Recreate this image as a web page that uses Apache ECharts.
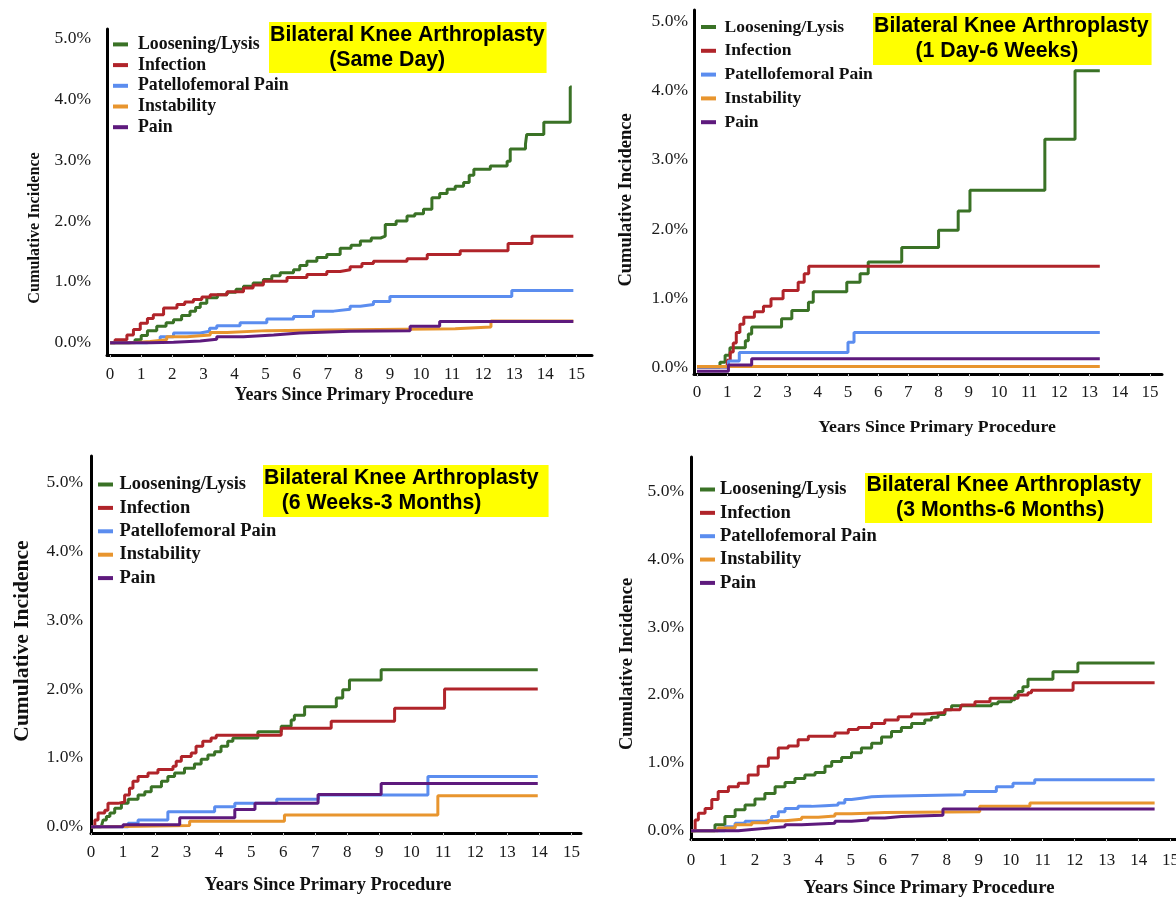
<!DOCTYPE html>
<html>
<head>
<meta charset="utf-8">
<title>Bilateral Knee Arthroplasty - cumulative incidence</title>
<script src="https://cdn.jsdelivr.net/npm/echarts@6.0.0/dist/echarts.min.js"></script>
<style>
  html, body { margin: 0; padding: 0; background: #fff; }
  #chart { width: 1176px; height: 897px; }
</style>
</head>
<body>
<div id="chart"></div>
<script>
// values: [years since primary procedure, cumulative incidence %]
const causes = ['Loosening/Lysis', 'Infection', 'Patellofemoral Pain', 'Instability', 'Pain'];
const panelNames = ['Same Day', '1 Day-6 Weeks', '6 Weeks-3 Months', '3 Months-6 Months'];
const xTicks = [0, 1, 2, 3, 4, 5, 6, 7, 8, 9, 10, 11, 12, 13, 14, 15];
const yTicks = [0, 1, 2, 3, 4, 5];

// Same Day
const sameDayLoosening = [[0,0],[0.6,0.01],[0.8,0.05],[1.0,0.12],[1.2,0.2],[1.5,0.27],[1.8,0.33],[2.04,0.38],[2.3,0.45],[2.57,0.52],[2.75,0.58],[2.9,0.65],[3.11,0.74],[3.45,0.79],[3.76,0.83],[4.05,0.88],[4.29,0.93],[4.6,0.98],[4.93,1.04],[5.2,1.1],[5.47,1.15],[5.9,1.2],[6.1,1.27],[6.33,1.34],[6.65,1.4],[6.97,1.45],[7.4,1.55],[7.75,1.6],[8.05,1.67],[8.4,1.72],[8.7,1.75],[8.85,1.94],[9.2,2.0],[9.55,2.08],[9.8,2.12],[10.08,2.19],[10.35,2.38],[10.6,2.45],[10.84,2.52],[11.1,2.57],[11.37,2.63],[11.55,2.75],[11.7,2.85],[12.23,2.9],[12.77,2.98],[12.87,3.18],[13.36,3.26],[13.4,3.42],[13.95,3.62],[14.8,4.2],[14.85,4.2]];
const sameDayInfection = [[0,0],[0.16,0.05],[0.54,0.13],[0.75,0.22],[0.97,0.32],[1.2,0.4],[1.39,0.46],[1.72,0.57],[2.15,0.63],[2.4,0.67],[2.68,0.71],[2.95,0.75],[3.22,0.79],[3.76,0.84],[4.29,0.9],[4.6,0.95],[4.93,1.01],[5.69,1.07],[6.33,1.12],[6.97,1.17],[7.4,1.2],[7.72,1.25],[8.1,1.3],[8.47,1.34],[9.55,1.38],[10.2,1.45],[11.26,1.51],[12.8,1.63],[13.57,1.75],[14.9,1.75]];
const sameDayPatellofemoral = [[0,0],[1.18,0.03],[1.61,0.1],[2.04,0.16],[2.9,0.19],[3.2,0.24],[3.43,0.28],[4.18,0.33],[5.04,0.39],[5.9,0.43],[6.54,0.52],[7.19,0.55],[7.72,0.6],[8.05,0.63],[8.47,0.68],[9.0,0.76],[12.92,0.86],[14.9,0.86]];
const sameDayInstability = [[0,0],[0.75,0.02],[1.29,0.05],[1.82,0.1],[2.47,0.13],[3.22,0.17],[3.76,0.2],[5.04,0.21],[7.0,0.23],[11.1,0.26],[12.25,0.36],[14.9,0.36]];
const sameDayPain = [[0,0],[1.29,0.01],[2.04,0.03],[2.9,0.06],[3.43,0.1],[4.29,0.13],[5.26,0.16],[6.1,0.19],[7.72,0.2],[9.65,0.27],[10.6,0.35],[14.9,0.35]];

// 1 Day-6 Weeks
const oneDayLoosening = [[0,0],[0.76,0.07],[0.93,0.17],[1.09,0.28],[1.6,0.38],[1.7,0.48],[1.81,0.58],[2.8,0.7],[3.14,0.82],[3.69,0.94],[3.85,1.09],[4.96,1.23],[5.4,1.35],[5.67,1.52],[6.78,1.73],[8.0,1.98],[8.65,2.26],[9.04,2.56],[11.52,3.3],[12.52,4.29],[13.34,4.29]];
const oneDayInfection = [[0,0],[1.0,0.1],[1.1,0.22],[1.2,0.35],[1.3,0.5],[1.42,0.62],[1.55,0.72],[1.9,0.8],[2.2,0.88],[2.45,0.99],[2.85,1.11],[3.35,1.23],[3.55,1.35],[3.7,1.46],[13.34,1.46]];
const oneDayPatellofemoral = [[0,0],[1.04,0.09],[1.4,0.21],[5.0,0.36],[5.2,0.5],[13.34,0.5]];
const oneDayInstability = [[0,0.01],[13.34,0.01]];
const oneDayPain = [[0,-0.06],[1.04,0.03],[1.81,0.12],[13.34,0.12]];

// 6 Weeks-3 Months
const sixWeekLoosening = [[0,0],[0.32,0],[0.38,0.1],[0.48,0.15],[0.59,0.2],[0.74,0.27],[0.95,0.34],[1.16,0.4],[1.47,0.46],[1.68,0.51],[1.88,0.58],[2.2,0.66],[2.4,0.73],[2.61,0.78],[2.92,0.85],[3.23,0.91],[3.44,0.98],[3.65,1.04],[3.86,1.09],[4.06,1.17],[4.27,1.24],[4.43,1.29],[5.21,1.38],[5.94,1.46],[6.25,1.55],[6.35,1.62],[6.67,1.74],[7.66,1.87],[7.86,1.99],[8.07,2.13],[9.06,2.28],[13.95,2.28]];
const sixWeekInfection = [[0,0],[0.12,0.1],[0.22,0.2],[0.43,0.24],[0.53,0.34],[0.84,0.36],[1.05,0.46],[1.2,0.56],[1.31,0.66],[1.47,0.73],[1.78,0.78],[2.09,0.83],[2.56,0.88],[2.66,0.95],[2.82,1.02],[3.13,1.07],[3.28,1.17],[3.49,1.24],[3.75,1.29],[3.91,1.33],[5.94,1.43],[7.5,1.53],[9.48,1.72],[11.04,2.0],[13.95,2.0]];
const sixWeekPatellofemoral = [[0,0],[0.95,0],[1.16,0.05],[1.47,0.1],[2.4,0.22],[3.86,0.29],[4.49,0.34],[5.8,0.4],[7.1,0.46],[10.52,0.73],[13.95,0.73]];
const sixWeekInstability = [[0,0],[0.5,0.02],[3.08,0.08],[6.04,0.17],[10.83,0.45],[13.95,0.45]];
const sixWeekPain = [[0,0],[1.0,0.03],[2.77,0.13],[4.49,0.25],[5.12,0.34],[7.09,0.47],[9.06,0.63],[13.95,0.63]];

// 3 Months-6 Months
const threeMonthLoosening = [[0,0],[0.44,0],[0.75,0.09],[1.06,0.21],[1.38,0.31],[1.69,0.38],[2.0,0.47],[2.31,0.55],[2.63,0.65],[2.94,0.71],[3.25,0.77],[3.56,0.82],[3.88,0.86],[4.19,0.95],[4.4,1.02],[4.71,1.08],[5.02,1.15],[5.33,1.22],[5.65,1.29],[5.96,1.38],[6.27,1.46],[6.58,1.52],[6.9,1.58],[7.31,1.63],[7.52,1.67],[7.73,1.71],[7.94,1.78],[8.15,1.84],[9.4,1.87],[9.6,1.9],[10.02,1.93],[10.13,2.0],[10.23,2.05],[10.38,2.12],[10.54,2.23],[11.32,2.34],[12.1,2.47],[14.5,2.47]];
const threeMonthInfection = [[0,0],[0.13,0.16],[0.23,0.26],[0.44,0.33],[0.65,0.46],[0.85,0.58],[1.17,0.65],[1.48,0.7],[1.79,0.82],[2.1,0.95],[2.42,1.07],[2.73,1.22],[3.04,1.25],[3.35,1.34],[3.67,1.39],[4.5,1.44],[4.92,1.49],[5.23,1.52],[5.65,1.58],[6.06,1.63],[6.48,1.68],[6.9,1.72],[7.31,1.74],[7.94,1.78],[8.41,1.8],[8.46,1.85],[8.88,1.9],[9.35,1.95],[10.23,2.0],[10.54,2.03],[10.65,2.07],[11.95,2.18],[14.5,2.18]];
const threeMonthPatellofemoral = [[0,0],[0.75,0],[1.06,0.06],[1.38,0.11],[1.69,0.14],[2.31,0.16],[2.52,0.21],[2.73,0.28],[2.94,0.33],[3.35,0.36],[3.77,0.37],[4.19,0.38],[4.6,0.41],[4.81,0.46],[5.02,0.48],[5.33,0.5],[5.65,0.51],[6.06,0.53],[8.56,0.58],[9.55,0.65],[10.07,0.7],[10.75,0.75],[14.5,0.75]];
const threeMonthInstability = [[0,0],[0.44,0],[0.85,0.04],[1.38,0.09],[1.9,0.12],[2.42,0.15],[2.94,0.17],[3.46,0.2],[3.98,0.22],[4.5,0.25],[5.02,0.26],[5.54,0.27],[6.06,0.28],[9.03,0.36],[10.6,0.41],[14.5,0.41]];
const threeMonthPain = [[0,0],[1.17,0],[1.48,0.02],[1.9,0.04],[2.42,0.06],[2.94,0.09],[3.46,0.1],[3.98,0.11],[4.5,0.14],[5.02,0.16],[5.54,0.19],[6.06,0.21],[6.58,0.22],[7.1,0.23],[7.88,0.32],[14.5,0.32]];

const panelData = [
  [sameDayLoosening, sameDayInfection, sameDayPatellofemoral, sameDayInstability, sameDayPain],
  [oneDayLoosening, oneDayInfection, oneDayPatellofemoral, oneDayInstability, oneDayPain],
  [sixWeekLoosening, sixWeekInfection, sixWeekPatellofemoral, sixWeekInstability, sixWeekPain],
  [threeMonthLoosening, threeMonthInfection, threeMonthPatellofemoral, threeMonthInstability, threeMonthPain]
];

const colors = ['#3a7226', '#b0242a', '#5b8def', '#e8952e', '#5e1a7d'];
const serif = '"Liberation Serif", "Times New Roman", serif';

// where each panel sits on the page
const layout = [
  { grid: { left: 107, top: 29, width: 485, height: 326 }, x: [-0.1, 15.5], y: [-0.2, 5.15],
    yMargin: 16, xMargin: 11, legend: { left: 113, top: 35.4, gap: 2.7, size: 17.8, pad: 5 },
    title: { left: 269, top: 22, pad: [0.5, 2, 0.5, 1], indent: 10 },
    yName: [35, 228, 16.2], xName: [354, 395, 17.8] },
  { grid: { left: 694, top: 10, width: 468, height: 364 }, x: [-0.1, 15.4], y: [-0.1, 5.17],
    yMargin: 6, xMargin: 10, legend: { left: 701, top: 18, gap: 5.8, size: 17.5, pad: 3.5 },
    title: { left: 873, top: 13, pad: [1, 3, 1, 1], indent: 7 },
    yName: [626, 200, 18.5], xName: [937, 427, 17.7] },
  { grid: { left: 91, top: 456, width: 490, height: 377 }, x: [0, 15.3], y: [-0.09, 5.38],
    yMargin: 8, xMargin: 11, legend: { left: 98, top: 475, gap: 4.4, size: 18.5, pad: 1.5 },
    title: { left: 263, top: 465, pad: [1, 10, 1, 1], indent: 3 },
    yName: [22, 641, 21.5], xName: [328, 885, 18.4] },
  { grid: { left: 691, top: 457, width: 486, height: 382 }, x: [0, 15.2], y: [-0.12, 5.5],
    yMargin: 7, xMargin: 13, legend: { left: 700, top: 480, gap: 4.35, size: 18.5, pad: 0 },
    title: { left: 865, top: 473, pad: [0, 11, 0, 1.5], indent: 5 },
    yName: [627, 664, 18.4], xName: [929, 888, 18.7] }
];

const grids = [], xAxes = [], yAxes = [], legends = [], titles = [], series = [], texts = [];

layout.forEach((p, i) => {
  grids.push(Object.assign({ outerBoundsMode: 'none', containLabel: false }, p.grid));

  xAxes.push({
    type: 'value', gridIndex: i, min: p.x[0], max: p.x[1],
    splitLine: { show: false },
    axisLine: { show: true, onZero: false, lineStyle: { color: '#000', width: 3 } },
    axisTick: { show: true, customValues: xTicks, length: 3, lineStyle: { color: '#c8c8c8' } },
    axisLabel: { customValues: xTicks, margin: p.xMargin, color: '#1a1a1a',
      fontFamily: serif, fontSize: 17, formatter: (v) => String(v) }
  });

  yAxes.push({
    type: 'value', gridIndex: i, min: p.y[0], max: p.y[1],
    splitLine: { show: false },
    axisLine: { show: true, onZero: false, lineStyle: { color: '#000', width: 3 } },
    axisTick: { show: false },
    axisLabel: { customValues: yTicks, margin: p.yMargin, color: '#1a1a1a',
      fontFamily: serif, fontSize: 17.5, formatter: (v) => v.toFixed(1) + '%' }
  });

  legends.push({
    orient: 'vertical', left: p.legend.left, top: p.legend.top, padding: 0,
    itemGap: p.legend.gap, itemWidth: 15, itemHeight: 4, icon: 'rect',
    selectedMode: false, data: causes,
    textStyle: { fontFamily: serif, fontWeight: 'bold', fontSize: p.legend.size,
      color: '#111', padding: [0, 0, 0, p.legend.pad] }
  });

  titles.push({
    text: 'Bilateral Knee Arthroplasty\n' + ' '.repeat(p.title.indent) + '(' + panelNames[i] + ')',
    left: p.title.left, top: p.title.top, padding: p.title.pad,
    backgroundColor: '#ffff00',
    textStyle: { fontFamily: '"Liberation Sans", Arial, sans-serif', fontWeight: 'bold',
      fontSize: 21.3, lineHeight: 25, color: '#000' }
  });

  texts.push({
    type: 'text', x: p.yName[0], y: p.yName[1], rotation: Math.PI / 2,
    style: { text: 'Cumulative Incidence', font: 'bold ' + p.yName[2] + 'px ' + serif,
      fill: '#111', textAlign: 'center', textVerticalAlign: 'middle' }
  });
  texts.push({
    type: 'text', x: p.xName[0], y: p.xName[1],
    style: { text: 'Years Since Primary Procedure', font: 'bold ' + p.xName[2] + 'px ' + serif,
      fill: '#111', textAlign: 'center', textVerticalAlign: 'middle' }
  });

  causes.forEach((name, c) => {
    series.push({
      name: name, type: 'line', step: 'end',
      xAxisIndex: i, yAxisIndex: i,
      data: panelData[i][c],
      symbol: 'none', showSymbol: false, silent: true,
      lineStyle: { width: 3, color: colors[c] },
      itemStyle: { color: colors[c] }
    });
  });
});

const chart = echarts.init(document.getElementById('chart'));
chart.setOption({
  backgroundColor: '#fff',
  animation: false,
  title: titles,
  legend: legends,
  grid: grids,
  xAxis: xAxes,
  yAxis: yAxes,
  graphic: texts,
  series: series
});
</script>
</body>
</html>
